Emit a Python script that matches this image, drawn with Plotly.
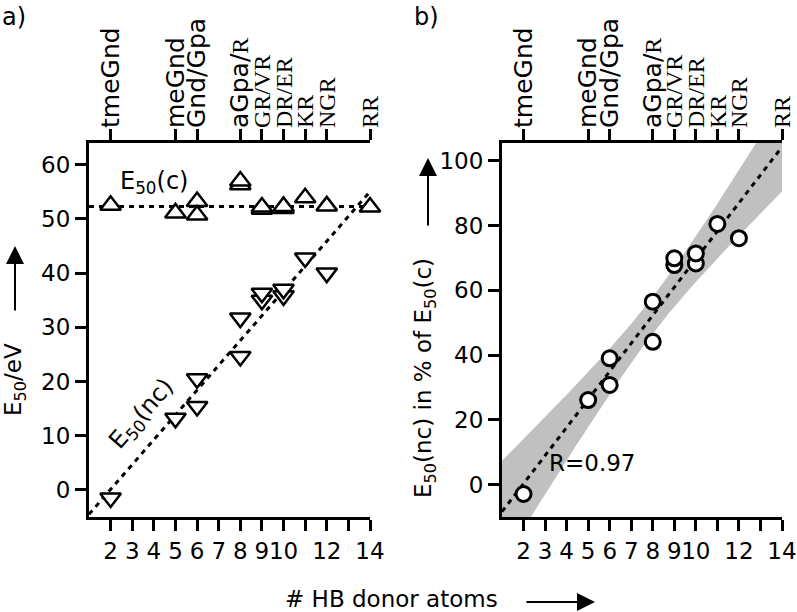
import numpy as np
import plotly.graph_objects as go

# panel a) E50 values vs number of HB donor atoms
donors_c = [2, 5, 6, 6, 8, 8, 9, 9, 10, 10, 11, 12, 14]
e50_c = [52.5, 51.1, 53.2, 50.7, 56.3, 57.0, 51.8, 52.2, 51.9, 52.3, 53.9, 52.4, 52.2]

donors_nc = [2, 5, 6, 6, 8, 8, 9, 9, 10, 10, 11, 12]
e50_nc = [-1.5, 13.2, 15.4, 20.5, 24.6, 31.7, 35.0, 36.3, 35.8, 37.0, 42.8, 40.0]

# panel b) E50(nc) in % of E50(c)
donors_pct = [2, 5, 6, 6, 8, 8, 9, 9, 10, 10, 11, 12]
nc_pct = [-2.9, 26.1, 39.0, 30.8, 44.1, 56.5, 67.8, 69.9, 68.3, 71.4, 80.5, 76.1]

# axis ticks
bottom_vals = list(range(2, 15))
bottom_text = ['2', '3', '4', '5', '6', '7', '8', '9', '10', '', '12', '', '14']
top_vals = [2, 5, 6, 8, 9, 10, 11, 12, 14]
SERIF = 'font-family:Liberation Serif;font-size:24px'
top_text = ['tmeGnd', 'meGnd', 'Gnd/Gpa',
            f'aGpa/<span style="{SERIF}">R</span>',
            f'<span style="{SERIF}">GR/VR</span>',
            f'<span style="{SERIF}">DR/ER</span>',
            f'<span style="{SERIF}">KR</span>',
            f'<span style="{SERIF}">NGR</span>',
            f'<span style="{SERIF}">RR</span>']
fit_x = [1, 14]

FONT = 'DejaVu Sans'
BLACK = '#000000'
W, H = 797, 612


def px(x):
    return x / W


def py(y):
    return 1 - y / H


fig = go.Figure()

# --- panel a) ---
# E50(c): flat line at the median value
c_level = float(np.median(e50_c))
fig.add_trace(go.Scatter(x=fit_x, y=[c_level, c_level], mode='lines',
                         line=dict(color=BLACK, width=3, dash='5px,5px'),
                         xaxis='x', yaxis='y', hoverinfo='skip'))
# E50(nc): linear fit
k_nc, b_nc = np.polyfit(donors_nc, e50_nc, 1)
fx = np.array(fit_x, dtype=float)
fig.add_trace(go.Scatter(x=fx, y=k_nc * fx + b_nc, mode='lines',
                         line=dict(color=BLACK, width=3, dash='5px,5px'),
                         xaxis='x', yaxis='y', hoverinfo='skip'))
fig.add_trace(go.Scatter(x=donors_c, y=e50_c, mode='markers', cliponaxis=False,
                         marker=dict(symbol='triangle-up', size=18, color='white',
                                     line=dict(color=BLACK, width=2.5)),
                         xaxis='x', yaxis='y'))
fig.add_trace(go.Scatter(x=donors_nc, y=e50_nc, mode='markers', cliponaxis=False,
                         marker=dict(symbol='triangle-down', size=18, color='white',
                                     line=dict(color=BLACK, width=2.5)),
                         xaxis='x', yaxis='y'))
# invisible trace so the top (name) axis gets drawn
fig.add_trace(go.Scatter(x=top_vals, y=[c_level] * len(top_vals), mode='markers',
                         marker=dict(opacity=0), xaxis='x2', yaxis='y',
                         hoverinfo='skip'))

# --- panel b) ---
xp = np.array(donors_pct, dtype=float)
yp = np.array(nc_pct, dtype=float)
k_p, b_p = np.polyfit(xp, yp, 1)
n = len(xp)
resid = yp - (k_p * xp + b_p)
s = np.sqrt(np.sum(resid ** 2) / (n - 2))
sxx = np.sum((xp - xp.mean()) ** 2)
t99 = 3.169  # t(0.995, 10 dof)
gx = np.linspace(fit_x[0], fit_x[1], 120)
pred = k_p * gx + b_p
half = t99 * s * np.sqrt(1 / n + (gx - xp.mean()) ** 2 / sxx)
fig.add_trace(go.Scatter(x=np.concatenate([gx, gx[::-1]]),
                         y=np.concatenate([pred - half, (pred + half)[::-1]]),
                         fill='toself', fillcolor='rgb(192,192,192)', mode='lines',
                         line=dict(width=0), xaxis='x3', yaxis='y2', hoverinfo='skip'))
fig.add_trace(go.Scatter(x=fx, y=k_p * fx + b_p, mode='lines',
                         line=dict(color=BLACK, width=3, dash='5px,5px'),
                         xaxis='x3', yaxis='y2', hoverinfo='skip'))
fig.add_trace(go.Scatter(x=donors_pct, y=nc_pct, mode='markers', cliponaxis=False,
                         marker=dict(symbol='circle', size=15, color='white',
                                     line=dict(color=BLACK, width=3)),
                         xaxis='x3', yaxis='y2'))
fig.add_trace(go.Scatter(x=top_vals, y=[50] * len(top_vals), mode='markers',
                         marker=dict(opacity=0), xaxis='x4', yaxis='y2',
                         hoverinfo='skip'))

r_val = np.corrcoef(xp, yp)[0, 1]

# axes
common = dict(showgrid=False, zeroline=False, showline=True, linecolor=BLACK,
              linewidth=3, ticks='outside', ticklen=11, tickwidth=2.5,
              tickcolor=BLACK, automargin=False,
              tickfont=dict(family=FONT, size=23, color=BLACK))
bottom = dict(common, range=[1, 14], tickmode='array', tickvals=bottom_vals,
              ticktext=bottom_text, tickangle=0)
top = dict(common, range=[1, 14], tickmode='array', tickvals=top_vals,
           ticktext=top_text, tickangle=-90, side='top', ticklabelstandoff=-4,
           tickfont=dict(family=FONT, size=25, color=BLACK))

dom_a = [px(89), px(370)]
dom_b = [px(502), px(782)]
dom_y = [py(517), py(143)]

fig.update_layout(
    template='none', width=W, height=H, showlegend=False,
    margin=dict(l=0, r=0, t=0, b=0, autoexpand=False),
    paper_bgcolor='white', plot_bgcolor='white',
    font=dict(family=FONT, color=BLACK),
    xaxis=dict(bottom, domain=dom_a, anchor='y'),
    xaxis2=dict(top, domain=dom_a, anchor='y', overlaying='x'),
    yaxis=dict(common, domain=dom_y, anchor='x', range=[-5, 64],
               tickvals=[0, 10, 20, 30, 40, 50, 60]),
    xaxis3=dict(bottom, domain=dom_b, anchor='y2'),
    xaxis4=dict(top, domain=dom_b, anchor='y2', overlaying='x3'),
    yaxis2=dict(common, domain=dom_y, anchor='x3', range=[-10, 105.5],
                tickvals=[0, 20, 40, 60, 80, 100]),
)


def note(text, x, y, xref='paper', yref='paper', angle=0, size=23):
    fig.add_annotation(text=text, x=x, y=y, xref=xref, yref=yref,
                       xanchor='center', yanchor='middle', showarrow=False,
                       textangle=angle,
                       font=dict(family=FONT, size=size, color=BLACK))


def arrow(x, y, ax, ay):
    fig.add_annotation(text='', x=px(x), y=py(y), xref='paper', yref='paper',
                       ax=ax, ay=ay, showarrow=True, arrowhead=2, arrowsize=1.8,
                       arrowwidth=2, arrowcolor=BLACK)


note('a)', px(14), py(17), size=24)
note('b)', px(426), py(17), size=24)
note('E<sub>50</sub>(c)', 4.0, 56.8, 'x', 'y', size=24)
note('E<sub>50</sub>(nc)', 3.45, 14.0, 'x', 'y', angle=-49, size=24)
note(f'R={r_val:.2f}', 5.2, 6.7, 'x3', 'y2')

# axis titles with arrows
note('E<sub>50</sub>/eV', px(15), py(380), angle=-90)
arrow(15, 246, 0, 66)
note('E<sub>50</sub>(nc) in % of E<sub>50</sub>(c)', px(425), py(378), angle=-90)
arrow(428, 158, 0, 69)
note('# HB donor atoms', px(391), py(599))
arrow(595, 602, -70, 0)

fig.write_html('out.html', config={'displayModeBar': False},
               post_script="document.body.style.margin='0px';")
